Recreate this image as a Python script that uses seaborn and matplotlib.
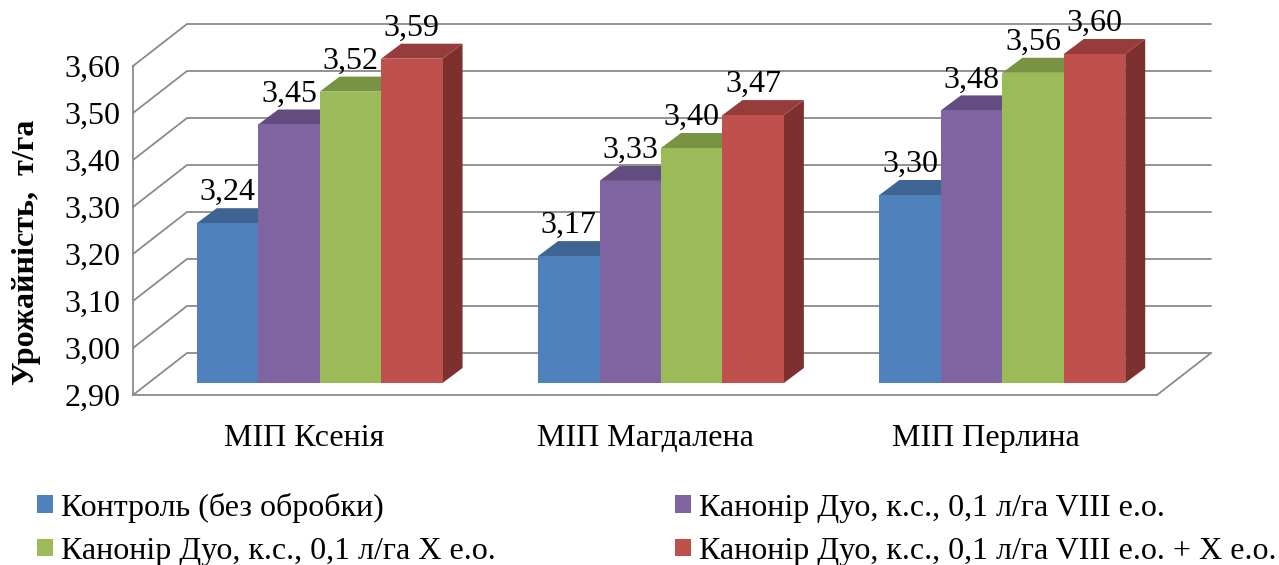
import numpy as np
import pandas as pd
import matplotlib
matplotlib.use('Agg')
import matplotlib.pyplot as plt
import seaborn as sns
from matplotlib.patches import Polygon, Patch
from matplotlib.lines import Line2D
from matplotlib.transforms import Affine2D, IdentityTransform
from matplotlib.ticker import FuncFormatter, FixedLocator

# ---- data
sorts = ['МІП Ксенія', 'МІП Магдалена', 'МІП Перлина']
variants = ['Контроль (без обробки)',
            'Канонір Дуо, к.с., 0,1 л/га VIII е.о.',
            'Канонір Дуо, к.с., 0,1 л/га X е.о.',
            'Канонір Дуо, к.с., 0,1 л/га VIII е.о. + X е.о.']
control = [3.24, 3.17, 3.30]
viii_eo = [3.45, 3.33, 3.48]
x_eo = [3.52, 3.40, 3.56]
viii_x_eo = [3.59, 3.47, 3.60]
y_ticks = [2.90, 3.00, 3.10, 3.20, 3.30, 3.40, 3.50, 3.60]
y_label = 'Урожайність,  т/га'

front_colors = ['#4F81BD', '#8064A2', '#9BBB59', '#C0504D']
top_colors = ['#3D6493', '#634C80', '#789342', '#963D3B']
side_colors = ['#33547D', '#533F6C', '#657C37', '#7D302E']
grid_color = '#8A8A8A'

df = pd.DataFrame({
    'sort': sorts * 4,
    'variant': np.repeat(variants, 3),
    'value': control + viii_eo + x_eo + viii_x_eo,
})

# 3d look in pixels
WALL_DX, WALL_DY = 54, 42     # back wall offset
BAR_DX, BAR_DY = 16, 12       # bars stand a bit inside the floor
DEPTH_DX, DEPTH_DY = 20, 15   # bar depth

sns.set_style('white')
plt.rcParams['font.family'] = ['Liberation Serif', 'DejaVu Serif']
plt.rcParams['text.color'] = 'black'
FS = 23

fig = plt.figure(figsize=(12.79, 5.65), dpi=100)
ax = fig.add_axes([133 / 1279, 170 / 565, 1024 / 1279, 329 / 565])

sns.barplot(data=df, x='sort', y='value', hue='variant', hue_order=variants,
            palette=front_colors, saturation=1, width=0.72, linewidth=0,
            legend=False, ax=ax)

y_min, y_max = y_ticks[0], y_ticks[-1]
ax.set_xlim(-0.5, 2.5)
ax.set_ylim(y_min, y_max)
ax.set_facecolor('none')

for s in ['top', 'right']:
    ax.spines[s].set_visible(False)
for s in ['left', 'bottom']:
    ax.spines[s].set_color(grid_color)
    ax.spines[s].set_linewidth(1.3)

ax.yaxis.set_major_locator(FixedLocator(y_ticks))
ax.yaxis.set_major_formatter(FuncFormatter(lambda v, p: f'{v:.2f}'.replace('.', ',')))
ax.tick_params(axis='y', direction='out', length=6, width=1.3, color=grid_color,
               labelsize=FS, pad=3, labelcolor='black')
ax.set_xticks([0, 1, 2])
ax.set_xticklabels(sorts)
ax.set_xticks([-0.5, 0.5, 1.5, 2.5], minor=True)
ax.tick_params(axis='x', which='major', length=0, labelsize=FS, pad=21,
               labelcolor='black')
ax.tick_params(axis='x', which='minor', direction='out', length=8, width=1.3,
               color=grid_color)
ax.set_xlabel('')
ax.set_ylabel('')
ax.grid(False)

to_px = ax.transData.transform
ident = IdentityTransform()

# back wall gridlines + floor
for v in y_ticks:
    (xl, yv), (xr, _) = to_px([(-0.5, v), (2.5, v)])
    ax.add_line(Line2D([xl, xl + WALL_DX, xr + WALL_DX], [yv, yv + WALL_DY, yv + WALL_DY],
                       transform=ident, color=grid_color, lw=1.3, clip_on=False, zorder=1))
(xr, yb) = to_px((2.5, y_min))
ax.add_line(Line2D([xr, xr + WALL_DX], [yb, yb + WALL_DY], transform=ident,
                   color=grid_color, lw=1.3, clip_on=False, zorder=1))

# bars: shift front face, add top and side faces, value labels
for j, cont in enumerate(ax.containers):
    for bar, val in zip(cont.patches, cont.datavalues):
        bar.set_y(y_min)
        bar.set_height(val - y_min)
        bar.set_transform(ax.transData + Affine2D().translate(BAR_DX, BAR_DY))
        bar.set_clip_on(False)
        bar.set_zorder(3 + j * 0.1 + 0.05)
        (x0, y0), (x1, y1) = to_px([(bar.get_x(), y_min),
                                    (bar.get_x() + bar.get_width(), val)])
        x0 += BAR_DX; x1 += BAR_DX; y0 += BAR_DY; y1 += BAR_DY
        top = Polygon([(x0, y1), (x1, y1), (x1 + DEPTH_DX, y1 + DEPTH_DY),
                       (x0 + DEPTH_DX, y1 + DEPTH_DY)], closed=True, transform=ident,
                      facecolor=top_colors[j], edgecolor='none', clip_on=False,
                      zorder=3 + j * 0.1)
        side = Polygon([(x1, y0), (x1 + DEPTH_DX, y0 + DEPTH_DY),
                        (x1 + DEPTH_DX, y1 + DEPTH_DY), (x1, y1)], closed=True,
                       transform=ident, facecolor=side_colors[j], edgecolor='none',
                       clip_on=False, zorder=3 + j * 0.1)
        ax.add_patch(side)
        ax.add_patch(top)
        ax.text((x0 + x1) / 2, y1 + DEPTH_DY + 1, f'{val:.2f}'.replace('.', ','),
                transform=ident, ha='center', va='bottom', fontsize=FS,
                zorder=10, clip_on=False)

fig.text(27 / 1279, 1 - 252 / 565, y_label, rotation=90, ha='center', va='center',
         fontsize=FS, fontweight='bold')

handles = [Patch(facecolor=c, edgecolor='none') for c in front_colors]
order = [0, 2, 1, 3]
fig.legend([handles[i] for i in order], [variants[i] for i in order], ncol=2,
           loc='lower left', bbox_to_anchor=(37 / 1279, -1 / 565), frameon=False,
           fontsize=FS, handlelength=0.5, handleheight=0.47, handletextpad=0.25,
           columnspacing=5.6, labelspacing=0.45, borderaxespad=0, borderpad=0)

fig.savefig('out.png', dpi=100)
